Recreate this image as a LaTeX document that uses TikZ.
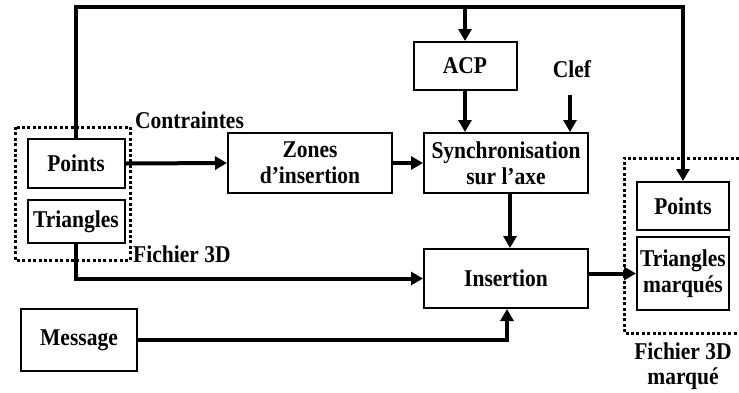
\documentclass[tikz,border=0pt]{standalone}
\usepackage{fontspec}
\usepackage{graphicx}
\setmainfont{Liberation Serif}
\usetikzlibrary{arrows.meta}
\newcommand{\tx}[1]{\scalebox{1}[1.12]{#1}}
\begin{document}
\begin{tikzpicture}[x=1pt,y=-1pt,
  every node/.style={font=\fontsize{21.5}{26}\selectfont\bfseries},
  boxn/.style={draw,line width=2pt,inner sep=0pt,align=center},
  arr/.style={line width=4pt,-{Triangle[length=12pt,width=13pt]}},
  dotbox/.style={line width=3pt,dash pattern=on 3pt off 2.4pt},
  lbl/.style={inner sep=0pt}]
\useasboundingbox (0,0) rectangle (739,392);
% boxes
\node[boxn,minimum width=97pt,minimum height=49pt] (ptsL) at (76,163.5) {\tx{Points}};
\node[boxn,minimum width=97pt,minimum height=43pt] (triL) at (76,221.5) {\tx{Triangles}};
\node[boxn,minimum width=116pt,minimum height=62pt] (msg) at (79,340) {\tx{Message}};
\node[boxn,minimum width=164pt,minimum height=60pt] (zones) at (310,163) {\tx{Zones}\\\tx{d’insertion}};
\node[boxn,minimum width=103pt,minimum height=48pt] (acp) at (465,66) {\tx{ACP}};
\node[boxn,minimum width=164pt,minimum height=60pt] (sync) at (506,163) {\tx{Synchronisation}\\\tx{sur l’axe}};
\node[boxn,minimum width=164pt,minimum height=59pt] (ins) at (506,278.5) {\tx{Insertion}};
\node[boxn,minimum width=92pt,minimum height=48pt] (ptsR) at (683,206) {\tx{Points}};
\node[boxn,minimum width=92pt,minimum height=73pt] (triR) at (683,273.5) {\tx{Triangles}\\\tx{marqués}};
% labels
\node[lbl,anchor=base west] (contr) at (135,128) {\tx{Contraintes}};
\node[lbl,anchor=base west] (fich) at (133,262) {\tx{Fichier 3D}};
\node[lbl,anchor=base] (fichm1) at (683,359) {\tx{Fichier 3D}};
\node[lbl,anchor=base] (fichm2) at (683,384) {\tx{marqué}};
\node[lbl,anchor=base] (clef) at (572,77) {\tx{Clef}};
% dotted boxes
\draw[dotbox] (15,127) rectangle (130,260);
\draw[dotbox] (739,158) -- (624,158) -- (624,333) -- (739,333);
% connectors
\coordinate (tr) at (683,7);
\coordinate (clefin) at (570,95);
\draw[arr] (ptsL.north) |- (tr) -| (ptsR.north);
\draw[arr] (acp.north |- tr) -- (acp.north);
\draw[arr] (acp.south) -- (acp.south |- sync.north);
\draw[arr] (clefin) -- (clefin |- sync.north);
\draw[arr] (ptsL.east) -- (zones.west);
\draw[arr] (zones.east) -- (sync.west);
\draw[arr] ([xshift=4pt]sync.south) -- ([xshift=4pt]ins.north);
\draw[arr] (triL.south) |- (ins.west);
\draw[arr] (msg.east) -| ([xshift=1pt]ins.south);
\draw[arr] (ins.east |- triR.west) -- (triR.west);
\end{tikzpicture}
\end{document}
